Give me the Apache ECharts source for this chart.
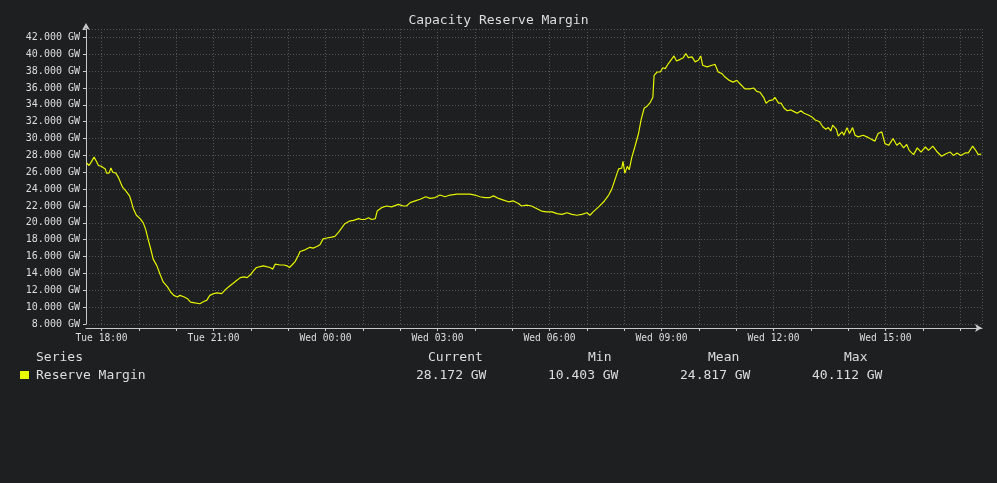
<!DOCTYPE html>
<html>
<head>
<meta charset="utf-8">
<title>Capacity Reserve Margin</title>
<script src="https://cdn.jsdelivr.net/npm/echarts@6/dist/echarts.min.js"></script>
<style>
    html, body {margin: 0; padding: 0; background: #1e1f21;}
    #reserveChart {width: 997px; height: 483px;}
</style>
</head>
<body>
<div id="reserveChart"></div>
<script>
/**
 * data (minutes after Tue 17:35, GW)
 */
var minuteOffsets = [
    1, 5, 9, 13, 16, 20, 25, 31, 33, 37, 40, 43, 48, 52, 56, 59, 64, 70, 73, 76,
    79, 81, 87, 92, 96, 100, 104, 108, 114, 119, 124, 131, 136, 141, 147, 151, 158, 163, 168, 175,
    183, 190, 194, 199, 205, 211, 218, 223, 229, 236, 241, 248, 254, 259, 265, 269, 274, 280, 285, 290,
    296, 300, 304, 306, 312, 318, 323, 327, 331, 336, 341, 344, 352, 360, 365, 371, 376, 381, 387, 395,
    400, 406, 411, 416, 423, 430, 438, 443, 448, 454, 459, 465, 468, 475, 483, 491, 502, 510, 515, 521,
    529, 537, 546, 553, 561, 569, 577, 585, 596, 606, 617, 625, 633, 641, 649, 655, 663, 671, 679, 687,
    695, 700, 708, 716, 724, 732, 740, 749, 757, 765, 773, 781, 789, 797, 805, 810, 815, 824, 832, 840,
    845, 850, 856, 861, 863, 866, 870, 873, 877, 882, 888, 892, 897, 901, 907, 911, 913, 918, 923, 927,
    931, 936, 941, 945, 949, 955, 960, 964, 968, 974, 979, 984, 988, 991, 998, 1006, 1011, 1016, 1022, 1027,
    1034, 1040, 1046, 1051, 1059, 1067, 1073, 1078, 1083, 1089, 1093, 1098, 1104, 1107, 1113, 1117, 1122, 1127, 1133, 1138,
    1143, 1149, 1154, 1161, 1166, 1172, 1179, 1184, 1189, 1193, 1197, 1200, 1206, 1209, 1215, 1218, 1223, 1227, 1232, 1236,
    1241, 1249, 1255, 1260, 1268, 1273, 1279, 1284, 1290, 1297, 1303, 1308, 1314, 1319, 1323, 1330, 1336, 1342, 1349, 1354,
    1361, 1367, 1375, 1382, 1389, 1394, 1400, 1406, 1413, 1418, 1425, 1429, 1434, 1439
];
var reserveGW = [
    27.1, 26.8, 27.3, 27.8, 27.4, 26.8, 26.7, 26.4, 25.9, 25.9, 26.5, 26.0, 25.9, 25.4, 24.7, 24.2, 23.8, 23.2, 22.5, 21.7,
    21.5, 20.9, 20.5, 20.0, 19.2, 18.0, 16.9, 15.7, 14.9, 13.9, 13.0, 12.4, 11.8, 11.4, 11.2, 11.4, 11.2, 11.0, 10.6, 10.5,
    10.4, 10.7, 10.8, 11.4, 11.6, 11.7, 11.6, 12.0, 12.4, 12.8, 13.1, 13.5, 13.6, 13.5, 13.9, 14.3, 14.7, 14.8, 14.9, 14.8,
    14.7, 14.5, 15.1, 15.1, 15.0, 15.0, 14.9, 14.7, 15.0, 15.4, 16.1, 16.6, 16.8, 17.1, 17.0, 17.2, 17.4, 18.1, 18.2, 18.3,
    18.4, 18.9, 19.4, 19.9, 20.2, 20.3, 20.5, 20.4, 20.4, 20.6, 20.4, 20.5, 21.4, 21.8, 22.0, 21.9, 22.2, 22.0, 22.0, 22.4,
    22.6, 22.8, 23.1, 22.9, 23.0, 23.3, 23.1, 23.3, 23.4, 23.4, 23.4, 23.3, 23.1, 23.0, 23.0, 23.2, 22.9, 22.7, 22.5, 22.6,
    22.3, 22.0, 22.1, 22.0, 21.7, 21.4, 21.3, 21.3, 21.1, 21.0, 21.2, 21.0, 20.9, 21.0, 21.2, 20.9, 21.3, 21.9, 22.5, 23.3,
    24.0, 25.1, 26.4, 26.5, 27.3, 25.9, 26.7, 26.3, 27.7, 29.0, 30.6, 32.2, 33.6, 33.8, 34.3, 34.9, 37.5, 37.9, 37.9, 38.4,
    38.3, 38.9, 39.4, 39.8, 39.2, 39.4, 39.6, 40.1, 39.6, 39.7, 39.1, 39.3, 39.8, 38.7, 38.5, 38.7, 38.8, 37.9, 37.7, 37.3,
    36.9, 36.7, 36.9, 36.5, 35.9, 35.9, 36.0, 35.6, 35.5, 34.9, 34.2, 34.5, 34.6, 34.9, 34.2, 34.2, 33.6, 33.3, 33.4, 33.2,
    33.0, 33.3, 33.0, 32.8, 32.6, 32.2, 32.0, 31.4, 31.1, 31.3, 30.9, 31.6, 31.1, 30.3, 30.8, 30.4, 31.3, 30.6, 31.3, 30.4,
    30.2, 30.4, 30.2, 30.0, 29.7, 30.6, 30.8, 29.4, 29.2, 30.0, 29.2, 29.5, 28.9, 29.3, 28.6, 28.1, 28.9, 28.4, 29.0, 28.6,
    29.1, 28.5, 27.9, 28.2, 28.4, 28.0, 28.3, 28.0, 28.3, 28.3, 29.1, 28.7, 28.1, 28.172
];
var dayNames = ['Sun', 'Mon', 'Tue', 'Wed', 'Thu', 'Fri', 'Sat'];
var statHeaders = ['Current', 'Min', 'Mean', 'Max'];
var statValues = ['28.172 GW', '10.403 GW', '24.817 GW', '40.112 GW'];
var seriesName = 'Reserve Margin';

var MONO = 'DejaVu Sans Mono';
var TEXT = '#dedede';
var GRID = '#555555';
var AXIS = '#c9c9c9';
var LINE = '#e6f500';

var startTime = new Date(2024, 0, 2, 17, 35).getTime();
var endTime = startTime + 24 * 3600 * 1000;

function pad(n) {
    return n < 10 ? '0' + n : '' + n;
}

var points = [];
for (var i = 0; i < minuteOffsets.length; i++) {
    points.push([startTime + minuteOffsets[i] * 60000, reserveGW[i]]);
}

/**
 * legend block under the graph
 */
var headerX = [428, 588, 708, 844];
var valueX = [416, 548, 680, 812];
var headY = 358;
var rowY = 376;
var legendItems = [
    {type: 'text', style: {text: 'Series', x: 36, y: headY, fill: TEXT, fontSize: 13, fontFamily: MONO, verticalAlign: 'middle'}},
    {type: 'rect', shape: {x: 20, y: 371, width: 9, height: 8}, style: {fill: '#e6ff00'}},
    {type: 'text', style: {text: seriesName, x: 36, y: rowY, fill: TEXT, fontSize: 13, fontFamily: MONO, verticalAlign: 'middle'}}
];
for (var s = 0; s < statHeaders.length; s++) {
    legendItems.push({type: 'text', style: {text: statHeaders[s], x: headerX[s], y: headY, fill: TEXT, fontSize: 13, fontFamily: MONO, verticalAlign: 'middle'}});
    legendItems.push({type: 'text', style: {text: statValues[s], x: valueX[s], y: rowY, fill: TEXT, fontSize: 13, fontFamily: MONO, verticalAlign: 'middle'}});
}

var option = {
    backgroundColor: '#1e1f21',
    animation: false,
    title: {
        text: 'Capacity Reserve Margin',
        left: 'center',
        top: 9,
        textStyle: {color: TEXT, fontSize: 13, fontWeight: 'normal', fontFamily: MONO}
    },
    grid: {left: 86, right: 15, top: 29, bottom: 159},
    xAxis: {
        type: 'time',
        min: startTime,
        max: endTime,
        minInterval: 3600 * 1000,
        maxInterval: 3600 * 1000,
        offset: 4,
        axisLine: {show: true, symbol: ['none', 'arrow'], symbolSize: [6, 7], lineStyle: {color: AXIS, width: 1}},
        axisTick: {show: true, length: 3, lineStyle: {color: AXIS}},
        axisLabel: {
            color: TEXT,
            fontSize: 9.6,
            fontFamily: MONO,
            margin: 5,
            showMinLabel: false,
            showMaxLabel: false,
            hideOverlap: false,
            formatter: function (val) {
                var d = new Date(val);
                if (d.getMinutes() !== 0 || d.getHours() % 3 !== 0) {
                    return '';
                }
                return dayNames[d.getDay()] + ' ' + pad(d.getHours()) + ':00';
            }
        },
        splitLine: {show: true, lineStyle: {color: GRID, type: [1, 2], width: 1}}
    },
    yAxis: {
        type: 'value',
        min: 8,
        max: 43,
        interval: 2,
        axisLine: {show: true, symbol: ['none', 'arrow'], symbolSize: [6, 7], symbolOffset: [0, 6], lineStyle: {color: AXIS, width: 1}},
        axisTick: {show: true, length: 3, lineStyle: {color: AXIS}},
        axisLabel: {
            color: TEXT,
            fontSize: 10,
            fontFamily: MONO,
            margin: 6,
            formatter: function (v) {
                if (v % 2 !== 0 || v > 42) {
                    return '';
                }
                return v.toFixed(3) + ' GW';
            }
        },
        splitLine: {show: true, lineStyle: {color: GRID, type: [1, 2], width: 1}}
    },
    graphic: legendItems,
    series: [
        {
            name: seriesName,
            type: 'line',
            data: points,
            showSymbol: false,
            sampling: null,
            lineStyle: {color: LINE, width: 1.2},
            itemStyle: {color: LINE}
        }
    ]
};

var chart = echarts.init(document.getElementById('reserveChart'));
chart.setOption(option);
</script>
</body>
</html>
